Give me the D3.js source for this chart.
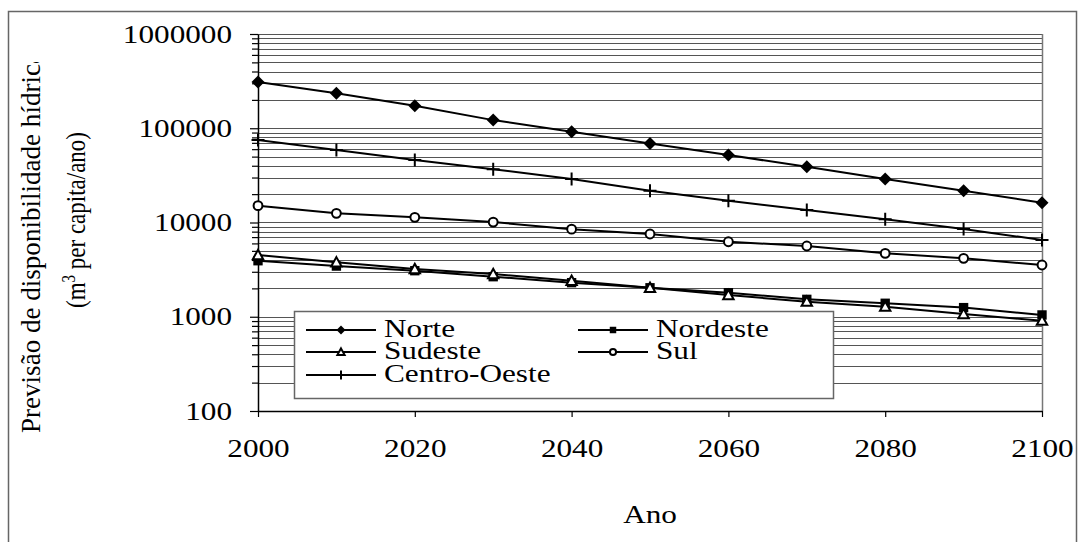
<!DOCTYPE html>
<html>
<head>
<meta charset="utf-8">
<script src="https://cdn.jsdelivr.net/npm/d3@7"></script>
<style>
  html, body { margin: 0; padding: 0; background: #fff; }
</style>
</head>
<body>
<div id="root"></div>
<script>
// data
const years = [2000, 2010, 2020, 2030, 2040, 2050, 2060, 2070, 2080, 2090, 2100]
const norte = [310000, 235000, 173000, 122000, 92000, 69000, 52000, 39000, 29000, 21700, 16200]
const nordeste = [3930, 3450, 3080, 2660, 2300, 2030, 1800, 1530, 1390, 1250, 1045]
const sudeste = [4520, 3780, 3210, 2840, 2410, 2030, 1700, 1445, 1280, 1070, 908]
const sul = [15100, 12500, 11350, 10100, 8500, 7550, 6250, 5630, 4710, 4170, 3540]
const centroOeste = [75000, 58800, 46000, 36700, 29000, 21700, 17000, 13600, 10800, 8530, 6520]
const seriesNames = ["Norte", "Nordeste", "Sudeste", "Sul", "Centro-Oeste"]
const xTicks = [2000, 2020, 2040, 2060, 2080, 2100]
const yDomain = [100, 1000000]
const xTitle = "Ano"
const yTitle1 = "Previsão de disponibilidade hídrica"

const series = [
  { name: seriesNames[0], values: norte, marker: "diamond" },
  { name: seriesNames[1], values: nordeste, marker: "square" },
  { name: seriesNames[2], values: sudeste, marker: "triangle" },
  { name: seriesNames[3], values: sul, marker: "circle" },
  { name: seriesNames[4], values: centroOeste, marker: "plus" },
]

const W = 1078, H = 542
const plot = { left: 258, right: 1042, top: 34, bottom: 411 }
const sx = 1.2   // the original text is stretched sideways
const serif = "'Liberation Serif', 'Times New Roman', serif"

const svg = d3.select("#root").append("svg")
  .attr("width", W).attr("height", H)

// outer frame
svg.append("rect")
  .attr("x", 8.5).attr("y", 11.5).attr("width", 1068).attr("height", 560)
  .attr("fill", "none").attr("stroke", "#666").attr("stroke-width", 1.5)

const x = d3.scaleLinear().domain([2000, 2100]).range([plot.left, plot.right])
const y = d3.scaleLog().domain(yDomain).range([plot.bottom, plot.top])
const yTickVals = y.ticks()
const isMajor = v => Math.abs(Math.log10(v) - Math.round(Math.log10(v))) < 1e-9

// gridlines
svg.append("g").selectAll("line")
  .data(yTickVals)
  .join("line")
  .attr("x1", plot.left).attr("x2", plot.right)
  .attr("y1", d => Math.round(y(d)) + 0.5).attr("y2", d => Math.round(y(d)) + 0.5)
  .attr("stroke", "#555").attr("stroke-width", 1.2)

// right border of plot
svg.append("line")
  .attr("x1", plot.right + 0.5).attr("x2", plot.right + 0.5)
  .attr("y1", plot.top).attr("y2", plot.bottom)
  .attr("stroke", "#777").attr("stroke-width", 1.5)

// y axis
const yAxis = svg.append("g")
  .attr("transform", `translate(${plot.left},0)`)
  .call(d3.axisLeft(y).tickValues(yTickVals).tickSizeOuter(0)
    .tickFormat(d => isMajor(d) ? d3.format("d")(d) : ""))
yAxis.select(".domain").attr("stroke", "#000").attr("stroke-width", 1.5)
yAxis.selectAll(".tick line")
  .attr("x2", d => isMajor(d) ? -8 : -6)
  .attr("stroke", "#000").attr("stroke-width", 1.2)
yAxis.selectAll(".tick text")
  .attr("x", -26 / sx)
  .attr("dy", "0.31em")
  .attr("transform", `scale(${sx},1)`)
  .attr("fill", "#000")
  .style("font-size", "26px")
  .style("font-family", serif)

// x axis
const xAxis = svg.append("g")
  .attr("transform", `translate(0,${plot.bottom})`)
  .call(d3.axisBottom(x).tickValues(xTicks).tickSizeOuter(0).tickFormat(d3.format("d")))
xAxis.select(".domain").attr("stroke", "#000").attr("stroke-width", 1.5)
xAxis.selectAll(".tick line").attr("y2", 6).attr("stroke", "#000").attr("stroke-width", 1.2)
xAxis.selectAll(".tick text")
  .attr("y", 46).attr("dy", 0)
  .attr("transform", `scale(${sx},1)`)
  .attr("x", 0)
  .attr("fill", "#000")
  .style("font-size", "26px")
  .style("font-family", serif)

// markers
function drawMarker(g, kind, s) {
  if (kind === "diamond") {
    g.append("path").attr("d", `M0,${-s}L${s},0L0,${s}L${-s},0Z`).attr("fill", "#000")
  } else if (kind === "square") {
    const h = s * 0.72
    g.append("rect").attr("x", -h).attr("y", -h).attr("width", 2 * h).attr("height", 2 * h).attr("fill", "#000")
  } else if (kind === "triangle") {
    const h = s * 0.8
    g.append("path").attr("d", `M0,${-h}L${h},${h * 0.8}L${-h},${h * 0.8}Z`)
      .attr("fill", "#fff").attr("stroke", "#000").attr("stroke-width", 2)
  } else if (kind === "circle") {
    g.append("circle").attr("r", s * 0.68).attr("fill", "#fff").attr("stroke", "#000").attr("stroke-width", 2)
  } else if (kind === "plus") {
    g.append("path").attr("d", `M${-s},0H${s}M0,${-s}V${s}`).attr("stroke", "#000").attr("stroke-width", 2)
  }
}

const line = d3.line().x((d, i) => x(years[i])).y(d => y(d))

series.forEach(s => {
  svg.append("path")
    .attr("d", line(s.values))
    .attr("fill", "none").attr("stroke", "#000").attr("stroke-width", 2)
  s.values.forEach((v, i) => {
    const g = svg.append("g").attr("transform", `translate(${x(years[i])},${y(v)})`)
    drawMarker(g, s.marker, 6.5)
  })
})

// legend
const legend = svg.append("g")
legend.append("rect")
  .attr("x", 294.5).attr("y", 311.5).attr("width", 539).attr("height", 87)
  .attr("fill", "#fff").attr("stroke", "#666").attr("stroke-width", 1.5)
const legendPos = [
  { x: 306, y: 330 }, { x: 578, y: 330 },
  { x: 306, y: 352 }, { x: 578, y: 352 },
  { x: 306, y: 375 },
]
series.forEach((s, i) => {
  const p = legendPos[i]
  const g = legend.append("g").attr("transform", `translate(${p.x},${p.y})`)
  g.append("line").attr("x1", 0).attr("x2", 70).attr("stroke", "#000").attr("stroke-width", 2)
  const m = g.append("g").attr("transform", "translate(35,0)")
  drawMarker(m, s.marker, 4.5)
  g.append("text")
    .attr("transform", `translate(78,7) scale(1.25,1)`)
    .attr("fill", "#000")
    .style("font-size", "25px")
    .style("font-family", serif)
    .text(s.name)
})

// axis titles
svg.append("text")
  .attr("transform", `translate(650,523) scale(${sx},1)`)
  .attr("text-anchor", "middle")
  .attr("fill", "#000")
  .style("font-size", "26px")
  .style("font-family", serif)
  .text(xTitle)

// the first title line is cut off at the top in the original
svg.append("clipPath").attr("id", "ytclip")
  .append("rect").attr("x", 0).attr("y", 62).attr("width", 120).attr("height", 440)

svg.append("g")
  .attr("clip-path", "url(#ytclip)")
  .append("text")
  .attr("transform", "translate(40,433) scale(1.2,1) rotate(-90)")
  .attr("textLength", 381)
  .attr("lengthAdjust", "spacingAndGlyphs")
  .attr("fill", "#000")
  .style("font-size", "23px")
  .style("font-family", serif)
  .text(yTitle1)

const t2 = svg.append("text")
  .attr("transform", "translate(85,220) scale(1.2,1) rotate(-90)")
  .attr("text-anchor", "middle")
  .attr("fill", "#000")
  .style("font-size", "23px")
  .style("font-family", serif)
t2.append("tspan").text("(m")
t2.append("tspan").attr("dy", -8).style("font-size", "15px").text("3")
t2.append("tspan").attr("dy", 8).text(" per capita/ano)")
</script>
</body>
</html>
